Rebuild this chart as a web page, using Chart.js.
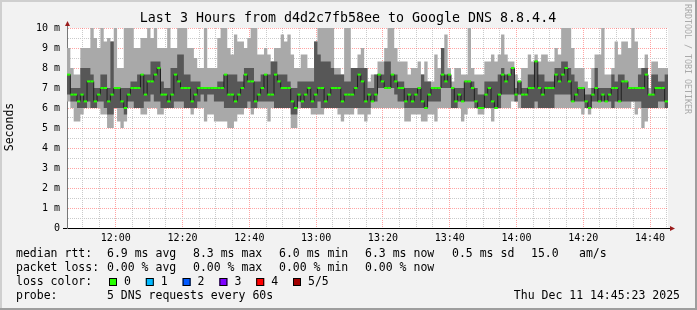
<!DOCTYPE html>
<html>
<head>
<meta charset="utf-8">
<title>Last 3 Hours from d4d2c7fb58ee to Google DNS 8.8.4.4</title>
<script src="https://cdn.jsdelivr.net/npm/chart.js@4.4.1/dist/chart.umd.min.js"></script>
<style>
  html, body { margin: 0; padding: 0; background: #f2f2f2; }
  canvas { display: block; }
</style>
</head>
<body>
<canvas id="graph" width="697" height="310"></canvas>
<script>
// one column per minute, graph runs 11:45:23 .. 14:45:23
let startTime = [11, 45, 23];
let timeLabels = ['12:00', '12:20', '12:40', '13:00', '13:20', '13:40', '14:00', '14:20', '14:40'];
let yLabels = ['0', '1 m', '2 m', '3 m', '4 m', '5 m', '6 m', '7 m', '8 m', '9 m', '10 m'];

// smoke: 5 pings sorted, values in ms
let pingMin = [
  6.33,6.0,5.33,5.33,5.67,6.0,6.0,6.0,6.0,6.0,
  5.67,5.67,5.0,5.0,6.0,5.33,5.0,5.33,6.0,6.0,
  6.0,6.0,5.67,5.67,6.0,6.0,6.0,5.67,5.67,6.0,
  6.0,6.0,6.0,6.0,6.0,6.0,6.0,5.67,6.0,6.0,
  6.0,5.33,5.67,5.67,5.33,5.33,5.33,5.33,5.0,5.0,
  5.33,5.67,5.67,6.0,6.0,5.67,6.0,6.0,6.0,6.0,
  5.33,6.0,6.0,6.0,6.0,6.0,6.0,5.0,5.0,6.0,
  6.0,6.0,6.0,5.67,5.67,5.67,5.67,6.0,6.0,6.0,
  6.0,5.67,5.33,5.67,5.67,5.67,6.0,5.67,5.67,5.33,
  5.67,6.0,6.0,6.0,6.0,6.0,6.0,6.0,6.0,6.0,
  6.0,5.33,5.33,5.67,5.67,5.67,5.33,5.33,5.67,5.67,
  5.33,6.0,6.0,6.0,6.0,6.0,6.0,6.0,5.33,5.67,
  6.0,6.0,6.0,5.67,5.67,6.0,6.0,5.33,6.0,6.0,
  6.0,6.0,6.0,6.33,6.33,6.0,6.0,6.0,6.0,6.0,
  6.0,6.0,6.0,6.0,6.0,6.0,6.0,6.0,6.0,6.0,
  6.0,6.0,6.0,6.0,5.67,6.0,5.67,6.0,6.0,6.0,
  6.0,6.0,6.0,6.0,6.0,6.0,6.0,6.0,6.0,6.33,
  5.67,6.0,5.0,5.33,6.0,6.0,6.0,6.0,6.0,6.0
];
let pingLow = [
  6.67,6.33,6.33,6.0,6.0,6.0,6.33,6.0,6.0,6.33,
  6.33,6.0,5.67,5.67,6.0,6.0,6.0,5.67,6.33,6.33,
  6.0,6.0,6.0,6.33,6.33,6.67,6.33,6.33,6.0,6.0,
  6.0,6.0,6.33,6.33,6.33,6.0,6.0,6.0,6.0,6.33,
  6.67,6.33,6.67,6.67,6.33,6.33,6.33,6.0,6.0,6.0,
  6.0,6.0,6.0,6.0,6.33,6.0,6.0,6.33,6.33,6.33,
  6.33,6.33,6.0,6.0,6.0,6.0,6.0,5.67,5.67,6.33,
  6.0,6.0,6.0,6.0,6.0,6.33,6.0,6.0,6.0,6.0,
  6.0,6.0,6.0,6.0,6.0,6.0,6.0,6.0,6.0,6.0,
  6.0,6.33,6.33,7.0,7.0,7.0,7.0,7.0,6.67,6.33,
  6.33,6.0,6.0,6.0,6.0,6.0,6.0,6.0,6.33,6.33,
  6.33,6.33,7.0,7.0,7.0,6.0,6.0,6.33,6.33,6.33,
  6.33,6.33,6.0,6.0,6.0,6.0,6.0,6.0,6.0,6.0,
  6.67,6.67,6.67,6.67,6.33,6.67,6.0,6.0,6.0,6.0,
  6.33,6.0,6.0,6.0,6.0,6.0,6.67,6.67,6.67,6.67,
  6.67,6.33,6.33,6.33,6.33,6.0,6.0,6.33,6.33,6.33,
  6.33,6.33,6.33,6.0,6.33,6.33,6.33,6.33,6.33,6.33,
  6.33,6.33,6.0,6.0,6.0,6.0,6.0,6.33,6.33,6.0
];
let median = [
  7.67,6.67,6.67,6.33,6.67,6.33,7.33,7.33,6.33,6.67,
  7.0,7.0,6.33,6.67,7.0,7.0,6.33,6.0,6.67,7.0,
  7.0,7.0,7.67,6.67,7.33,7.33,7.67,8.0,6.67,6.67,
  6.33,6.67,7.67,7.33,7.0,7.0,7.0,6.33,6.67,7.0,
  7.0,7.0,7.0,7.0,7.0,7.0,7.0,7.67,6.67,6.67,
  6.33,6.67,7.0,7.67,7.33,7.33,6.33,6.67,7.0,7.67,
  6.67,6.67,7.67,7.33,7.0,7.0,7.0,6.33,6.0,6.67,
  6.33,6.67,7.0,6.33,6.67,7.0,7.0,6.33,6.67,7.0,
  7.0,7.0,6.33,6.67,6.67,6.67,7.0,7.67,7.33,6.33,
  6.67,6.33,6.67,7.67,7.33,7.0,7.0,7.67,7.33,7.0,
  7.0,6.33,6.67,6.33,6.67,7.0,6.33,6.0,6.67,7.0,
  7.0,7.0,7.67,7.33,7.67,7.0,6.33,6.67,6.33,7.33,
  7.33,7.0,6.33,6.0,6.0,6.67,7.0,6.33,6.0,6.67,
  7.67,7.33,7.67,8.0,6.67,7.33,6.67,6.67,7.0,7.0,
  8.33,7.0,6.67,7.0,7.0,7.0,7.67,7.33,7.67,8.0,
  7.33,6.33,6.67,7.0,7.0,6.33,6.0,6.67,7.0,6.33,
  6.67,6.33,6.67,7.0,7.0,6.33,7.33,7.33,7.0,7.0,
  7.0,7.0,7.0,7.67,6.67,6.67,7.0,7.0,7.0,6.33
];
let pingHigh = [
  7.67,7.0,7.0,7.0,8.0,8.0,8.0,7.67,7.0,7.0,
  7.67,7.67,7.0,9.33,7.0,7.0,7.0,7.0,7.0,7.33,
  7.33,7.67,7.67,7.67,7.67,8.33,8.33,8.33,7.33,7.0,
  7.0,8.0,8.0,8.67,8.67,7.67,7.67,7.33,7.33,7.33,
  7.0,7.0,7.0,7.0,7.0,7.33,7.33,7.67,7.67,7.67,
  7.67,7.33,7.33,8.0,8.0,8.0,7.33,7.33,7.67,7.67,
  7.67,8.33,8.33,7.67,7.67,7.67,7.33,7.0,7.0,7.33,
  7.33,7.33,7.33,7.33,9.33,8.67,8.33,8.33,8.33,8.0,
  7.67,7.67,7.67,7.33,7.33,8.0,8.0,8.0,8.0,8.0,
  7.0,7.0,7.67,7.67,7.67,8.33,8.33,7.67,7.67,7.33,
  7.33,7.0,7.0,7.0,7.0,7.0,7.67,7.33,7.33,7.0,
  7.0,7.0,9.0,7.67,7.67,7.0,7.0,7.0,7.0,7.33,
  7.33,7.33,7.0,6.67,6.67,7.33,7.33,7.33,7.33,7.67,
  8.0,7.67,7.67,8.0,7.0,7.33,7.0,7.0,7.67,7.67,
  8.33,7.67,7.67,7.33,7.33,7.33,8.0,8.0,8.33,8.33,
  8.0,7.67,7.33,7.0,7.0,6.67,6.67,7.0,8.0,7.0,
  7.0,7.0,7.0,7.67,7.33,7.67,7.67,7.33,7.0,7.0,
  7.0,7.67,8.0,8.0,6.67,7.67,7.67,7.33,7.33,7.67
];
let pingMax = [
  9.0,8.0,7.67,7.67,9.0,9.0,9.0,10.0,9.5,9.0,
  10.0,9.33,9.5,9.33,10.0,8.0,8.0,10.0,10.0,10.0,
  9.0,9.0,9.5,9.5,10.0,9.5,10.0,9.0,9.0,9.0,
  10.0,9.0,9.0,10.0,10.0,10.0,9.0,9.0,8.5,8.0,
  8.0,10.0,8.0,8.0,8.0,9.5,10.0,10.0,9.0,8.67,
  9.67,9.33,9.33,9.0,9.5,10.0,10.0,8.67,8.67,9.0,
  8.67,8.33,9.0,9.0,9.67,9.33,9.67,8.67,8.0,8.0,
  8.67,8.67,8.0,8.0,9.33,10.0,10.0,10.0,10.0,10.0,
  8.0,8.0,7.67,10.0,10.0,8.0,8.0,8.67,9.0,8.0,
  7.33,7.67,7.67,8.33,8.33,9.0,10.0,10.0,9.0,8.33,
  8.33,8.33,7.67,8.0,8.0,8.33,7.67,8.33,7.33,7.33,
  8.67,8.0,9.0,9.67,8.0,7.33,8.0,8.0,7.67,7.67,
  10.0,8.0,7.67,7.67,7.67,8.33,8.33,8.67,8.33,8.67,
  9.67,8.67,8.33,8.33,7.67,7.33,8.0,8.0,8.67,8.33,
  8.67,8.33,8.67,8.67,8.33,8.33,9.0,8.67,10.0,10.0,
  10.0,9.0,8.0,8.0,8.0,7.33,7.0,8.0,8.67,8.67,
  10.0,7.67,7.67,8.0,9.33,8.67,9.33,9.33,9.0,10.0,
  9.33,8.0,8.0,8.67,7.0,8.33,8.33,8.0,8.0,8.0
];

let lossColors = ['#26ff00', '#00b8ff', '#0059ff', '#7e00ff', '#ff0000', '#a10000'];
let lossLabels = ['0', '1', '2', '3', '4', '5/5'];

const mono = "'DejaVu Sans Mono', monospace";
const t0 = startTime[0] * 60 + startTime[1] + startTime[2] / 60;

function clock(v) {
    let m = Math.round(t0 + v);
    return String(Math.floor(m / 60)).padStart(2, '0') + ':' + String(m % 60).padStart(2, '0');
}

// a step per minute, rrdtool style
function steps(arr) {
    let pts = arr.map((v, i) => ({x: i, y: v}));
    pts.push({x: arr.length, y: arr[arr.length - 1]});
    return pts;
}

let xTicks = [];
for (let v = Math.ceil(t0 / 5) * 5 - t0; v <= median.length; v += 5) xTicks.push(v);

const redGrid = 'rgba(255,90,90,0.55)';
const grayGrid = '#cacaca';

const decor = {
    id: 'decor',
    beforeDraw(chart) {
        const ctx = chart.ctx;
        const a = chart.chartArea;
        ctx.save();
        ctx.fillStyle = '#f2f2f2';
        ctx.fillRect(0, 0, chart.width, chart.height);
        ctx.fillStyle = '#cfcfcf';
        ctx.fillRect(0, 0, chart.width, 2);
        ctx.fillRect(0, 0, 2, chart.height);
        ctx.fillStyle = '#9e9e9e';
        ctx.fillRect(0, chart.height - 2, chart.width, 2);
        ctx.fillRect(chart.width - 2, 0, 2, chart.height);
        ctx.fillStyle = '#ffffff';
        ctx.fillRect(a.left, a.top, a.right - a.left, a.bottom - a.top);
        ctx.restore();
    },
    afterDraw(chart) {
        const ctx = chart.ctx;
        const a = chart.chartArea;
        ctx.save();

        // axis ends and arrows
        ctx.fillStyle = '#000';
        ctx.fillRect(a.left - 4, a.bottom, 4, 1);
        ctx.fillRect(a.right, a.bottom, 4, 1);
        ctx.fillStyle = '#777';
        ctx.fillRect(a.left, a.top - 4, 1, 4);
        ctx.fillStyle = '#9b1c1c';
        ctx.beginPath();
        ctx.moveTo(a.left + 0.5, a.top - 7);
        ctx.lineTo(a.left + 3, a.top - 2);
        ctx.lineTo(a.left - 2, a.top - 2);
        ctx.closePath();
        ctx.fill();
        ctx.beginPath();
        ctx.moveTo(a.right + 7, a.bottom + 0.5);
        ctx.lineTo(a.right + 2, a.bottom + 3);
        ctx.lineTo(a.right + 2, a.bottom - 2);
        ctx.closePath();
        ctx.fill();

        ctx.fillStyle = '#000';
        ctx.textBaseline = 'middle';
        ctx.font = '13.3px ' + mono;
        ctx.textAlign = 'center';
        ctx.fillText('Last 3 Hours from d4d2c7fb58ee to Google DNS 8.8.4.4', 348, 19);

        ctx.font = '11.5px ' + mono;
        ctx.save();
        ctx.translate(10, 127);
        ctx.rotate(-Math.PI / 2);
        ctx.fillText('Seconds', 0, 0);
        ctx.restore();

        ctx.save();
        ctx.font = '8.3px ' + mono;
        ctx.fillStyle = '#aaaaaa';
        ctx.translate(687, 59);
        ctx.rotate(Math.PI / 2);
        ctx.fillText('RRDTOOL / TOBI OETIKER', 0, 0);
        ctx.restore();

        ctx.textAlign = 'left';
        const put = (s, x, y) => ctx.fillText(s, x, y);
        put('median rtt:', 16, 254);
        put('6.9 ms avg', 107, 254);
        put('8.3 ms max', 193, 254);
        put('6.0 ms min', 279, 254);
        put('6.3 ms now', 365, 254);
        put('0.5 ms sd', 452, 254);
        put('15.0', 531, 254);
        put('am/s', 579, 254);

        put('packet loss:', 16, 268);
        put('0.00 % avg', 107, 268);
        put('0.00 % max', 193, 268);
        put('0.00 % min', 279, 268);
        put('0.00 % now', 365, 268);

        put('loss color:', 16, 282);
        lossColors.forEach((c, i) => {
            let bx = 109 + i * 36.8;
            ctx.fillStyle = c;
            ctx.fillRect(bx, 278, 8, 8);
            ctx.strokeStyle = '#000';
            ctx.lineWidth = 1;
            ctx.strokeRect(bx + 0.5, 278.5, 7, 7);
            ctx.fillStyle = '#000';
            put(lossLabels[i], bx + 15, 282);
        });

        put('probe:', 16, 296);
        put('5 DNS requests every 60s', 107, 296);
        ctx.textAlign = 'right';
        put('Thu Dec 11 14:45:23 2025', 680, 296);
        ctx.restore();
    }
};

window.onload = function() {
    const ctx = document.getElementById('graph').getContext('2d');
    new Chart(ctx, {
        type: 'line',
        data: {
            datasets: [
                {data: steps(pingMin), stepped: true, borderWidth: 0, borderColor: 'transparent', pointRadius: 0, fill: false, order: 5},
                {data: steps(pingMax), stepped: true, borderWidth: 0, borderColor: 'transparent', pointRadius: 0,
                 fill: 0, backgroundColor: '#a9a9a9', order: 4},
                {data: steps(pingLow), stepped: true, borderWidth: 0, borderColor: 'transparent', pointRadius: 0, fill: false, order: 3},
                {data: steps(pingHigh), stepped: true, borderWidth: 0, borderColor: 'transparent', pointRadius: 0,
                 fill: 2, backgroundColor: '#575757', order: 2},
                {data: steps(median), stepped: true, borderWidth: 1, borderColor: '#202020', pointRadius: 0, fill: false, order: 1},
                {data: median.map((v, i) => ({x: i + 0.5, y: v})), showLine: false, pointStyle: 'line',
                 pointRadius: 1.67, pointBorderWidth: 2, pointBorderColor: lossColors[0], order: 0}
            ]
        },
        options: {
            responsive: false,
            devicePixelRatio: 1,
            animation: false,
            events: [],
            layout: {padding: {left: 0, top: 28, right: 29, bottom: 0}},
            plugins: {legend: {display: false}, tooltip: {enabled: false}},
            scales: {
                x: {
                    type: 'linear',
                    min: 0,
                    max: median.length,
                    z: 1,
                    afterFit: s => { s.height = 82; },
                    afterBuildTicks: s => { s.ticks = xTicks.map(v => ({value: v})); },
                    ticks: {
                        autoSkip: false, maxRotation: 0, minRotation: 0, padding: 4,
                        color: '#000', font: {family: mono, size: 10},
                        callback: v => timeLabels.includes(clock(v)) ? clock(v) : ''
                    },
                    grid: {
                        drawTicks: false, lineWidth: 1,
                        color: c => (c.tick && timeLabels.includes(clock(c.tick.value))) ? redGrid : grayGrid
                    },
                    border: {color: '#000', width: 1, dash: [1, 1]}
                },
                y: {
                    min: 0,
                    max: 10,
                    z: 1,
                    afterFit: s => { s.width = 67; },
                    ticks: {
                        stepSize: 0.5, autoSkip: false, padding: 7,
                        color: '#000', font: {family: mono, size: 10},
                        callback: v => Number.isInteger(v) ? yLabels[v] : ''
                    },
                    grid: {
                        drawTicks: false, lineWidth: 1,
                        color: c => (c.tick && Number.isInteger(c.tick.value)) ? redGrid : grayGrid
                    },
                    border: {color: '#777', width: 1, dash: [1, 1]}
                }
            }
        },
        plugins: [decor]
    });
};
</script>
</body>
</html>
